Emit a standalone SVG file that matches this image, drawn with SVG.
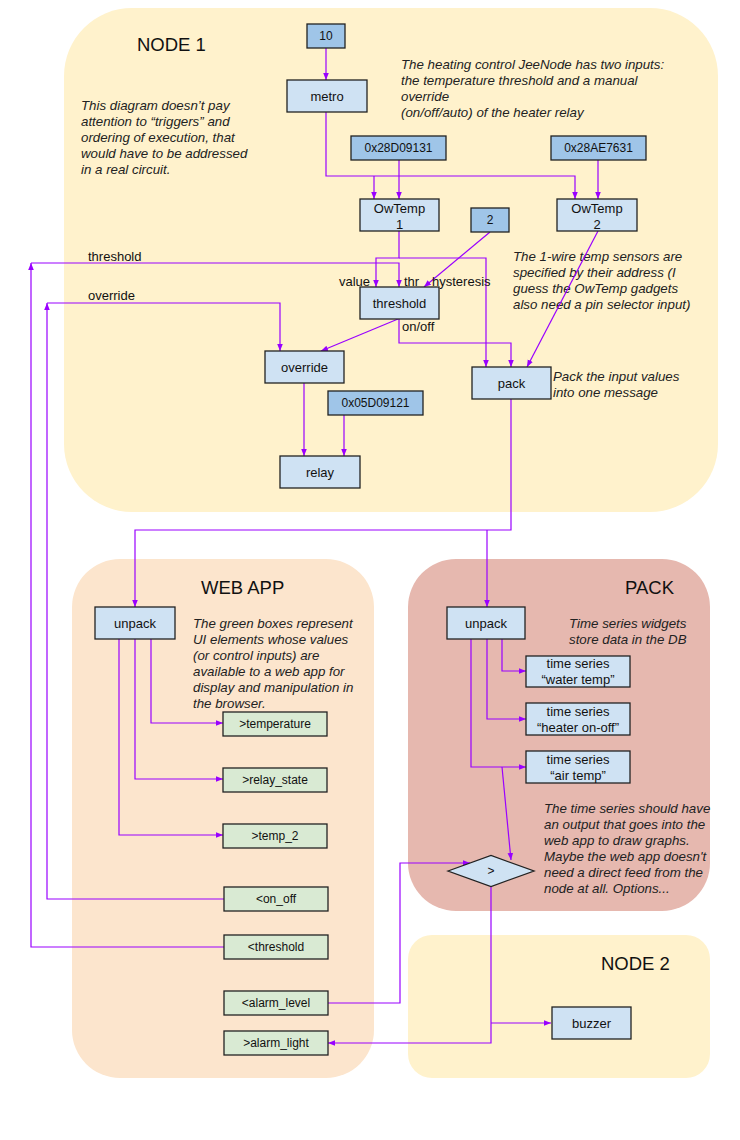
<svg xmlns="http://www.w3.org/2000/svg" width="740" height="1140" viewBox="0 0 740 1140">
<defs>
<marker id="arr" viewBox="0 0 10 10" refX="10" refY="5" markerWidth="7" markerHeight="7" markerUnits="userSpaceOnUse" orient="auto">
<path d="M0,1 L10,5 L0,9 z" fill="#9900ff"/>
</marker>
</defs>
<style>
text{font-family:"Liberation Sans",Arial,sans-serif;fill:#111}
.region{stroke:none}
.n1{fill:#fff2cc}.web{fill:#fce5cd}.pk{fill:#e6b8af}
.title{font-size:18.5px}
.box{stroke:#222;stroke-width:1.3}
.lb{fill:#cfe2f3}.db{fill:#9fc5e8}.gb{fill:#d9ead3}
.t13{font-size:13px;text-anchor:middle}
.t12{font-size:12px;text-anchor:middle}
.note{font-size:13.3px;font-style:italic;fill:#222}
.lab{font-size:13px}
.c path{fill:none;stroke:#9900ff;stroke-width:1.2}
.c .a{marker-end:url(#arr)}
</style>
<g id="regions">
<rect id="region-node1" class="region n1" x="64" y="8" width="654" height="504" rx="68" ry="68"/>
<rect id="region-webapp" class="region web" x="72" y="559" width="302" height="519" rx="48" ry="48"/>
<rect id="region-pack" class="region pk" x="408" y="559" width="302" height="352" rx="48" ry="48"/>
<rect id="region-node2" class="region n1" x="408" y="935" width="302" height="143" rx="24" ry="24"/>
<text class="title" x="137" y="51">NODE 1</text>
<text class="title" x="201" y="594">WEB APP</text>
<text class="title" x="625" y="594">PACK</text>
<text class="title" x="601" y="970">NODE 2</text>
</g>
<g id="notes">
<text class="note" x="81" y="110">This diagram doesn’t pay</text>
<text class="note" x="81" y="126">attention to “triggers” and</text>
<text class="note" x="81" y="142">ordering of execution, that</text>
<text class="note" x="81" y="158">would have to be addressed</text>
<text class="note" x="81" y="174">in a real circuit.</text>
<text class="note" x="401" y="69">The heating control JeeNode has two inputs:</text>
<text class="note" x="401" y="85">the temperature threshold and a manual</text>
<text class="note" x="401" y="101">override</text>
<text class="note" x="401" y="117">(on/off/auto) of the heater relay</text>
<text class="note" x="513" y="261">The 1-wire temp sensors are</text>
<text class="note" x="513" y="277">specified by their address (I</text>
<text class="note" x="513" y="293">guess the OwTemp gadgets</text>
<text class="note" x="513" y="309">also need a pin selector input)</text>
<text class="note" x="553" y="381">Pack the input values</text>
<text class="note" x="553" y="397">into one message</text>
<text class="note" x="193" y="628">The green boxes represent</text>
<text class="note" x="193" y="644">UI elements whose values</text>
<text class="note" x="193" y="660">(or control inputs) are</text>
<text class="note" x="193" y="676">available to a web app for</text>
<text class="note" x="193" y="692">display and manipulation in</text>
<text class="note" x="193" y="708">the browser.</text>
<text class="note" x="569" y="628">Time series widgets</text>
<text class="note" x="569" y="644">store data in the DB</text>
<text class="note" x="544" y="813">The time series should have</text>
<text class="note" x="544" y="829">an output that goes into the</text>
<text class="note" x="544" y="845">web app to draw graphs.</text>
<text class="note" x="544" y="861">Maybe the web app doesn't</text>
<text class="note" x="544" y="877">need a direct feed from the</text>
<text class="note" x="544" y="893">node at all. Options...</text>
</g>
<g id="connectors" class="c">
<path class="a" d="M326,48 V80"/>
<path class="a" d="M326,112 V176 H575 V199"/>
<path class="a" d="M374,176 V199"/>
<path class="a" d="M399,160 V199"/>
<path class="a" d="M598,160 V199"/>
<path class="a" d="M399,231 V258 H376 V287"/>
<path class="a" d="M399,258 H486 V367"/>
<path class="a" d="M31,263 H399 V287"/>
<path class="a" d="M490,232 L424,287"/>
<path class="a" d="M399,319 V343 H511 V367"/>
<path class="a" d="M398,319 L321,351"/>
<path class="a" d="M598,231 L527,367"/>
<path class="a" d="M47,303 H280 V351"/>
<path class="a" d="M304,383 V456"/>
<path class="a" d="M344,415 V456"/>
<path class="a" d="M511,399 V530 H135 V607"/>
<path class="a" d="M487,530 V607"/>
<path class="a" d="M151,639 V723 H223"/>
<path class="a" d="M135,639 V779 H223"/>
<path class="a" d="M119,639 V835 H223"/>
<path class="a" d="M502,639 V671 H526"/>
<path class="a" d="M487,639 V719 H526"/>
<path class="a" d="M471,639 V767 H526"/>
<path class="a" d="M502,767 L511,860"/>
<path class="a" d="M225,899 H47 V303"/>
<path class="a" d="M225,947 H31 V263"/>
<path class="a" d="M328,1003 H400 V863 H470"/>
<path class="a" d="M491,887 V1043 H328"/>
<path class="a" d="M491,1023 H551"/>
<text class="lab" x="88" y="261">threshold</text>
<text class="lab" x="88" y="300">override</text>
<text class="lab" x="339" y="286">value</text>
<text class="lab" x="404" y="286">thr</text>
<text class="lab" x="432" y="286">hysteresis</text>
<text class="lab" x="402" y="331">on/off</text>
</g>
<g id="n-10"><rect class="box db" x="307" y="24" width="38" height="24"/><text class="t12" x="326" y="40">10</text></g>
<g id="n-metro"><rect class="box lb" x="287" y="80" width="80" height="32"/><text class="t13" x="327" y="101">metro</text></g>
<g id="n-addr1"><rect class="box db" x="351" y="136" width="95" height="24"/><text class="t12" x="398.5" y="152">0x28D09131</text></g>
<g id="n-addr2"><rect class="box db" x="551" y="136" width="95" height="24"/><text class="t12" x="598.5" y="152">0x28AE7631</text></g>
<g id="n-owtemp1"><rect class="box lb" x="360" y="199" width="79" height="32"/><text class="t13" x="399.5" y="213">OwTemp</text><text class="t13" x="399.5" y="229">1</text></g>
<g id="n-owtemp2"><rect class="box lb" x="557" y="199" width="80" height="32"/><text class="t13" x="597" y="213">OwTemp</text><text class="t13" x="597" y="229">2</text></g>
<g id="n-2"><rect class="box db" x="471" y="208" width="38" height="24"/><text class="t12" x="490" y="224">2</text></g>
<g id="n-threshold"><rect class="box lb" x="360" y="287" width="79" height="32"/><text class="t13" x="399.5" y="308">threshold</text></g>
<g id="n-override"><rect class="box lb" x="265" y="351" width="79" height="32"/><text class="t13" x="304.5" y="372">override</text></g>
<g id="n-pack"><rect class="box lb" x="472" y="367" width="79" height="32"/><text class="t13" x="511.5" y="388">pack</text></g>
<g id="n-addr3"><rect class="box db" x="328" y="391" width="95" height="24"/><text class="t12" x="375.5" y="407">0x05D09121</text></g>
<g id="n-relay"><rect class="box lb" x="280" y="456" width="80" height="32"/><text class="t13" x="320" y="477">relay</text></g>
<g id="n-unpack-web"><rect class="box lb" x="95" y="607" width="80" height="32"/><text class="t13" x="135" y="628">unpack</text></g>
<g id="n-temperature"><rect class="box gb" x="223" y="712" width="104" height="24"/><text class="t12" x="275" y="728">&gt;temperature</text></g>
<g id="n-relay-state"><rect class="box gb" x="223" y="768" width="104" height="24"/><text class="t12" x="275" y="784">&gt;relay_state</text></g>
<g id="n-temp2"><rect class="box gb" x="223" y="824" width="104" height="24"/><text class="t12" x="275" y="840">&gt;temp_2</text></g>
<g id="n-on-off"><rect class="box gb" x="224" y="887" width="104" height="24"/><text class="t12" x="276" y="903">&lt;on_off</text></g>
<g id="n-threshold-ui"><rect class="box gb" x="224" y="935" width="104" height="24"/><text class="t12" x="276" y="951">&lt;threshold</text></g>
<g id="n-alarm-level"><rect class="box gb" x="224" y="991" width="104" height="24"/><text class="t12" x="276" y="1007">&lt;alarm_level</text></g>
<g id="n-alarm-light"><rect class="box gb" x="224" y="1031" width="104" height="24"/><text class="t12" x="276" y="1047">&gt;alarm_light</text></g>
<g id="n-unpack-pack"><rect class="box lb" x="447" y="607" width="78" height="32"/><text class="t13" x="486" y="628">unpack</text></g>
<g id="n-ts-water"><rect class="box lb" x="526" y="656" width="104" height="31"/><text class="t13" x="578" y="668">time series</text><text class="t13" x="578" y="684">“water temp”</text></g>
<g id="n-ts-heater"><rect class="box lb" x="526" y="703" width="104" height="32"/><text class="t13" x="578" y="716">time series</text><text class="t13" x="578" y="732">“heater on-off”</text></g>
<g id="n-ts-air"><rect class="box lb" x="526" y="751" width="104" height="32"/><text class="t13" x="578" y="764">time series</text><text class="t13" x="578" y="780">“air temp”</text></g>
<g id="n-compare"><polygon class="box lb" points="448,871 491,855.5 534,871 491,886.5"/><text class="t12" x="491" y="875">&gt;</text></g>
<g id="n-buzzer"><rect class="box lb" x="552" y="1007" width="79" height="32"/><text class="t13" x="591.5" y="1028">buzzer</text></g>
</svg>
